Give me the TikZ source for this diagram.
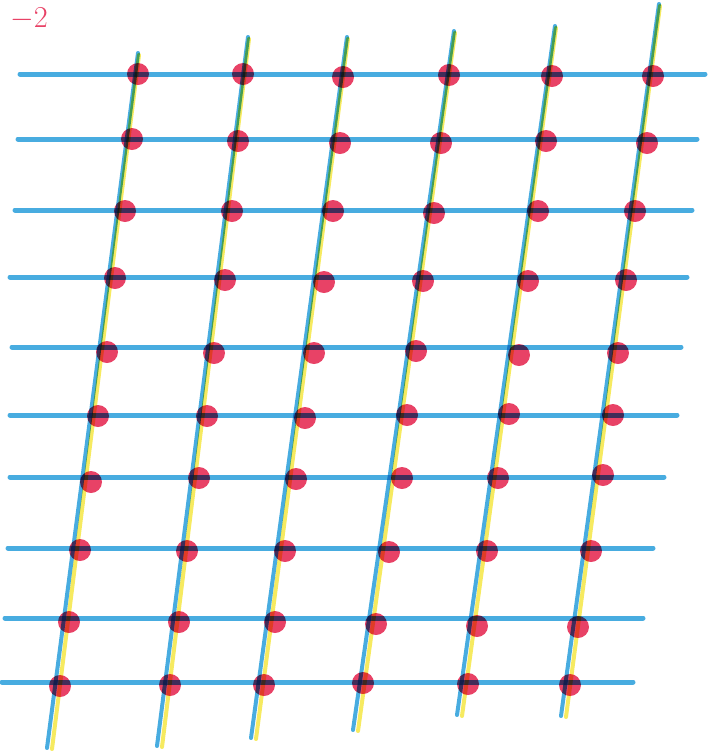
\documentclass[tikz,border=0pt]{standalone}
\usepackage{xcolor}
\usetikzlibrary{math}
\definecolor{gridblue}{RGB}{72,172,224}
\definecolor{dotred}{RGB}{232,66,102}
\definecolor{printyellow}{RGB}{246,234,96}

\begin{document}
\begin{tikzpicture}[x=0.02cm,y=-0.02cm]
\tikzmath{
\wh=0.1;%horizontal line width (cm)
\ws=0.08;%slanted line width (cm)
\rd=11;%dot radius
}
\useasboundingbox (0,0) rectangle (715,752);

\begin{scope}[blend mode=multiply]

% slanted lines: yellow print slightly off the blue one
\foreach \xa/\ya/\xb/\yb in {138/53/47/748, 248/37/157/746, 347/37/251/738, 454/31/353/730, 555/26/457/715, 659/4/561/716}
{
\draw[color=printyellow, line width=\ws cm, line cap=round] (\xa+1,\ya+2) -- (\xb+5,\yb+1);
\draw[color=gridblue, line width=\ws cm, line cap=round] (\xa,\ya) -- (\xb,\yb);
}

% horizontal lines
\foreach \y/\xa/\xb in {74/20/705, 139/18/697, 210/15/692, 277/10/687, 347/12/681, 415/10/677, 477/10/664, 548/8/653, 618/5/643, 682/2/633}
\draw[color=gridblue, line width=\wh cm, line cap=round] (\xa,\y) -- (\xb,\y);

% dots, one slanted line after the other
\foreach \x/\y in {138/74, 132/139, 125/211, 115/278, 107/352, 98/416, 91/482, 80/550, 69/622, 60/686}
\fill[color=dotred] (\x,\y) circle (\rd);
\foreach \x/\y in {243/74, 238/141, 232/211, 225/280, 214/353, 207/416, 199/478, 187/551, 179/622, 170/685}
\fill[color=dotred] (\x,\y) circle (\rd);
\foreach \x/\y in {343/77, 340/143, 333/211, 324/282, 314/353, 305/418, 296/479, 285/551, 275/622, 264/685}
\fill[color=dotred] (\x,\y) circle (\rd);
\foreach \x/\y in {449/75, 441/143, 434/213, 423/281, 416/351, 407/415, 402/478, 389/552, 376/624, 363/683}
\fill[color=dotred] (\x,\y) circle (\rd);
\foreach \x/\y in {552/76, 546/141, 538/211, 528/281, 519/355, 509/414, 498/478, 487/551, 477/626, 468/684}
\fill[color=dotred] (\x,\y) circle (\rd);
\foreach \x/\y in {653/76, 647/143, 635/211, 626/280, 618/353, 613/415, 603/475, 591/551, 578/627, 570/685}
\fill[color=dotred] (\x,\y) circle (\rd);

\end{scope}

\node[anchor=base west, inner sep=0, color=dotred, font=\LARGE] (pagenum) at (10,27) {$-2$};

\end{tikzpicture}
\end{document}
